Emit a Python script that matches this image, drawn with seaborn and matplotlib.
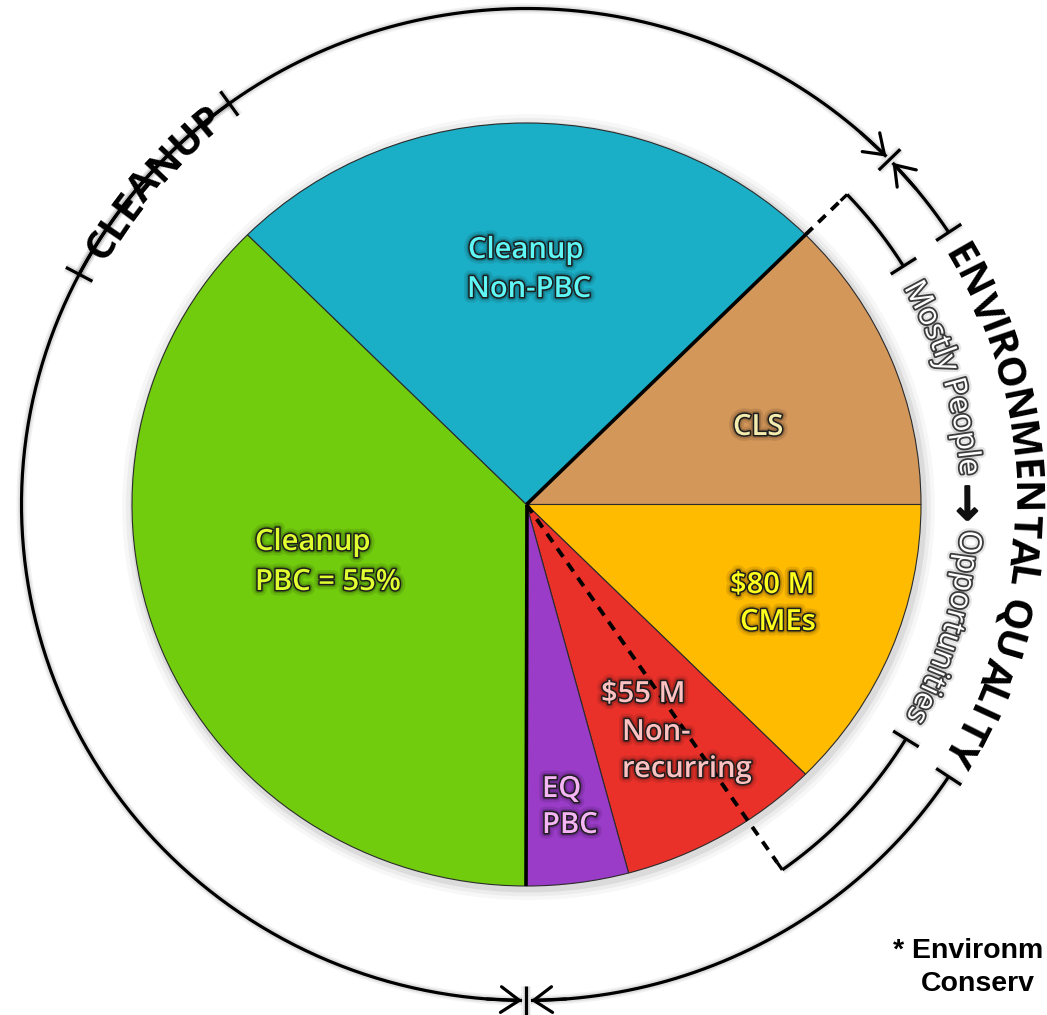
import numpy as np
import matplotlib
matplotlib.use("Agg")
import matplotlib.pyplot as plt
import matplotlib.patheffects as pe
from matplotlib.font_manager import FontProperties
from matplotlib.patches import Ellipse
import seaborn as sns

# ---------------- data ----------------
categories = ["Cleanup PBC", "Cleanup Non-PBC", "CLS", "CMEs", "Non-recurring", "EQ PBC"]
values = [45, 30, 15, 15, 10, 5]
groups = ["CLEANUP", "CLEANUP", "EQ", "EQ", "EQ", "EQ"]
slice_colors = ["#72CC0E", "#1BAFC7", "#D4975A", "#FFBB00", "#E9312A", "#9A3CC8"]
slice_label_lines = [["Cleanup", "PBC = 55%"],
                     ["Cleanup", "Non-PBC"],
                     ["CLS"],
                     ["\\$80 M", "CMEs"],
                     ["\\$55 M", "Non-", "recurring"],
                     ["EQ", "PBC"]]
label_colors = ["#DFFF30", "#5FF6F6", "#F4ECAE", "#FFFF1E", "#FFC2C2", "#F5B5F5"]
group_titles = ["CLEANUP", "ENVIRONMENTAL QUALITY"]
bracket_text = "Mostly People \u2192 Opportunities"
footnote_lines = ["* Environm", "Conserv"]

# ---------------- layout (pixels) ----------------
W, H = 1047, 1015
PIE_L, PIE_R, PIE_T, PIE_B = 132, 921, 123, 886
CX, CY = (PIE_L + PIE_R) / 2, (PIE_T + PIE_B) / 2
RXP, RYP = (PIE_R - PIE_L) / 2, (PIE_B - PIE_T) / 2
RX_O, RY_O = 505, 496          # outer ring
R_B = 446                      # inner bracket ring
BRACKET_END = -55              # lower end of the bracket (pixel angle)
# left x, baseline y for each label line
label_pos = [[(255, 550), (255, 590)],
             [(468, 258), (467, 297)],
             [(733, 435)],
             [(730, 593), (740, 630)],
             [(601, 702), (622, 740), (622, 777)],
             [(542, 797), (542, 833)]]
footnote_pos = [(893, 958), (921, 991)]

sns.set_theme(style="white")
plt.rcParams["font.family"] = ["Open Sans", "DejaVu Sans"]

fig = plt.figure(figsize=(W / 100, H / 100), dpi=100)
fig.patch.set_facecolor("white")

# ---------------- pie ----------------
ax_pie = fig.add_axes([PIE_L / W, 1 - PIE_B / H, (PIE_R - PIE_L) / W, (PIE_B - PIE_T) / H])
for s, al in [(1.03, 0.03), (1.02, 0.045), (1.01, 0.07)]:
    ax_pie.add_patch(Ellipse((0.005, -0.007), 2 * s, 2 * s, color="black", alpha=al,
                             lw=0, clip_on=False, zorder=0))
wedges, _ = ax_pie.pie(values, colors=slice_colors, startangle=270, counterclock=False,
                       radius=1, wedgeprops=dict(edgecolor="#2b2b2b", linewidth=0.8))
ax_pie.set_aspect("auto")
ax_pie.set_xlim(-1, 1)
ax_pie.set_ylim(-1, 1)
ax_pie.axis("off")

total = float(sum(values))
cum = np.cumsum(values)
bounds = [270.0] + [270 - 360 * cum[i] / total for i in range(len(values) - 1)
                    if groups[i] != groups[i + 1]]
for a in bounds:
    t = np.radians(a)
    ax_pie.plot([0, np.cos(t)], [0, np.sin(t)], color="black", lw=2.6,
                solid_capstyle="butt", zorder=5)

# ---------------- overlay axes (pixel coordinates) ----------------
ax = fig.add_axes([0, 0, 1, 1])
ax.set_xlim(0, W)
ax.set_ylim(H, 0)
ax.axis("off")
ax.set_zorder(3)
ax.patch.set_visible(False)

renderer = fig.canvas.get_renderer()


def px_angle(a):
    t = np.radians(a)
    return np.degrees(np.arctan2(RYP * np.sin(t), RXP * np.cos(t)))


def P(a, rx, ry=None):
    ry = rx if ry is None else ry
    t = np.radians(a)
    return CX + rx * np.cos(t), CY - ry * np.sin(t)


LW = 2.3
line_fx = [pe.Stroke(linewidth=LW + 5, foreground="black", alpha=0.05),
           pe.Stroke(linewidth=LW + 2.5, foreground="black", alpha=0.08),
           pe.Normal()]


def arc(a0, a1, rx, ry=None, **kw):
    ry = rx if ry is None else ry
    th = np.radians(np.linspace(a0, a1, 300))
    ax.plot(CX + rx * np.cos(th), CY - ry * np.sin(th), color="black", lw=LW,
            solid_capstyle="butt", path_effects=line_fx, **kw)


def tick(a, rx, ry=None, half=15):
    ry = rx if ry is None else ry
    x0, y0 = P(a, rx - half, ry - half)
    x1, y1 = P(a, rx + half, ry + half)
    ax.plot([x0, x1], [y0, y1], color="black", lw=LW, solid_capstyle="butt",
            path_effects=line_fx)


def arrow_end(a_tip, a_from, rx, ry):
    ax.annotate("", xy=P(a_tip, rx, ry), xytext=P(a_from, rx, ry),
                arrowprops=dict(arrowstyle="->,head_length=0.6,head_width=0.42",
                                lw=LW, color="black", mutation_scale=22,
                                shrinkA=0, shrinkB=0))


def char_width(ch, prop):
    w2 = renderer.get_text_width_height_descent("||", prop, ismath=False)[0]
    w3 = renderer.get_text_width_height_descent("|" + ch + "|", prop, ismath=False)[0]
    return w3 - w2


def arc_text(text, theta_c, r, prop, color, effects, tracking=0.0, special=None):
    special = special or {}
    props = [special.get(c, {}).get("prop", prop) for c in text]
    widths = np.array([char_width(c, p) for c, p in zip(text, props)]) + tracking
    tot = widths.sum()
    offs = np.cumsum(widths) - widths / 2 - tot / 2
    cap = renderer.get_text_width_height_descent("H", prop, ismath=False)[1]
    for c, s, p in zip(text, offs, props):
        th = theta_c - np.degrees(s / r)
        sp = special.get(c, {})
        x, y = P(th, r - cap / 2 + sp.get("shift", 0))
        ax.text(x, y, c, rotation=th - 90, rotation_mode="anchor", ha="center",
                va=sp.get("va", "baseline"), fontproperties=p, color=sp.get("color", color),
                path_effects=sp.get("effects", effects))
    half = np.degrees(tot / 2 / r)
    return theta_c + half, theta_c - half


# ---- outer ring with group titles ----
a_top = px_angle(bounds[1])
a_bot = bounds[0]
title_prop = FontProperties(family=["Open Sans", "DejaVu Sans"], weight="bold", size=29)
R_T = (RX_O + RY_O) / 2
c_hi, c_lo = arc_text(group_titles[0], 139.2, R_T, title_prop, "black", None, tracking=0.6)
e_hi, e_lo = arc_text(group_titles[1], 0.0, R_T, title_prop, "black", None, tracking=0.2)
pad = 2.2
# CLEANUP arc: upper part and lower part
arc(c_hi + pad, a_top + 0.5, RX_O, RY_O)
arc(c_lo - pad, a_bot - 0.5, RX_O, RY_O)
tick(c_hi + pad, RX_O, RY_O)
tick(c_lo - pad, RX_O, RY_O)
arrow_end(a_top + 0.5, a_top + 4.5, RX_O, RY_O)
arrow_end(a_bot - 0.5, a_bot - 4.5, RX_O, RY_O)
# ENVIRONMENTAL QUALITY arc
arc(e_hi + pad, a_top - 0.5, RX_O, RY_O)
arc(e_lo - pad, a_bot - 360 + 0.5, RX_O, RY_O)
tick(e_hi + pad, RX_O, RY_O)
tick(e_lo - pad, RX_O, RY_O)
arrow_end(a_top - 0.5, a_top - 4.5, RX_O, RY_O)
arrow_end(a_bot - 360 + 0.5, a_bot - 360 + 4.5, RX_O, RY_O)
# boundary ticks
tick(a_top, RX_O, RY_O)
tick(a_bot, RX_O, RY_O)

# ---- inner bracket ----
br_prop = FontProperties(family=["Open Sans", "DejaVu Sans"], size=22)
arrow_prop = FontProperties(family=["DejaVu Sans"], size=33)
br_fx = [pe.Stroke(linewidth=6, foreground="black", alpha=0.10),
         pe.Stroke(linewidth=2.6, foreground="#3c3c3c"), pe.Normal()]
b_hi, b_lo = arc_text(bracket_text, 0.3, R_B, br_prop, "white", br_fx, tracking=0.3,
                      special={"\u2192": dict(prop=arrow_prop, color="#111111", va="center_baseline",
                                              effects=[pe.Stroke(linewidth=1.6, foreground="#111111"),
                                                       pe.Normal()],
                                              shift=9)})
bpad = 2.4
arc(b_hi + bpad, a_top, R_B)
arc(b_lo - bpad, BRACKET_END, R_B)
tick(b_hi + bpad, R_B)
tick(b_lo - bpad, R_B)
# corner stubs + dashed leaders
for a, r_start in [(a_top, np.hypot(RXP * np.cos(np.radians(bounds[1])),
                                    RYP * np.sin(np.radians(bounds[1])))),
                   (BRACKET_END, 0.0)]:
    x0, y0 = P(a, R_B - 9)
    x1, y1 = P(a, R_B)
    ax.plot([x0, x1], [y0, y1], color="black", lw=LW, solid_capstyle="butt")
    xs, ys = P(a, r_start)
    ax.plot([xs, x0], [ys, y0], color="black", lw=2.8, linestyle=(0, (2.6, 2.0)),
            dash_capstyle="butt")

# ---- slice labels ----
lab_prop = FontProperties(family=["Open Sans", "DejaVu Sans"], weight="semibold", size=21)
for lines, poss, col in zip(slice_label_lines, label_pos, label_colors):
    for txt, (x, y) in zip(lines, poss):
        ax.text(x, y, txt, ha="left", va="baseline", fontproperties=lab_prop, color=col,
                path_effects=[pe.Stroke(linewidth=8, foreground="black", alpha=0.10),
                              pe.Stroke(linewidth=4.5, foreground="black", alpha=0.18),
                              pe.Stroke(linewidth=2.2, foreground="#1e1e1e"),
                              pe.Normal()])

# ---- footnote ----
fn_prop = FontProperties(family=["Liberation Sans", "DejaVu Sans"], weight="bold", size=20.5)
for txt, (x, y) in zip(footnote_lines, footnote_pos):
    ax.text(x, y, txt, ha="left", va="baseline", fontproperties=fn_prop, color="black")

fig.savefig("out.png", dpi=100, facecolor="white")
